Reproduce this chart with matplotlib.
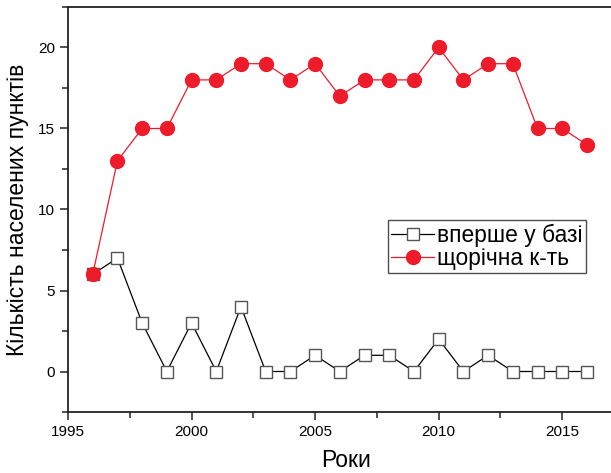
import matplotlib.pyplot as plt
from matplotlib.ticker import MultipleLocator

plt.rcParams['font.family'] = ['Liberation Sans', 'DejaVu Sans']

years = list(range(1996, 2017))
first_time = [6, 7, 3, 0, 3, 0, 4, 0, 0, 1, 0, 1, 1, 0, 2, 0, 1, 0, 0, 0, 0]
yearly = [6, 13, 15, 15, 18, 18, 19, 19, 18, 19, 17, 18, 18, 18, 20, 18, 19, 19, 15, 15, 14]

fig = plt.figure(figsize=(6.11, 4.73), dpi=100)
ax = fig.add_axes([68/611, 1 - 412/473, 556/611, 405/473])

ax.plot(years, first_time, '-s', color='black', lw=0.9, ms=8.5,
        mfc='white', mec='#555555', mew=1.0, label='вперше у базі')
ax.plot(years, yearly, '-o', color='#ee1c2a', lw=0.9, ms=10,
        mfc='#ee1c2a', mec='#ee1c2a', label='щорічна к-ть')

ax.set_xlim(1995, 2017.5)
ax.set_ylim(-2.5, 22.5)
ax.xaxis.set_major_locator(MultipleLocator(5))
ax.xaxis.set_minor_locator(MultipleLocator(2.5))
ax.yaxis.set_major_locator(MultipleLocator(5))
ax.yaxis.set_minor_locator(MultipleLocator(2.5))
ax.tick_params(which='major', direction='out', length=6, width=1.1, labelsize=11, color='#222222')
ax.tick_params(which='minor', direction='out', length=4, width=1.1, color='#222222')
for s in ax.spines.values():
    s.set_linewidth(1.3)
    s.set_color('#222222')

ax.set_xlabel('Роки', fontsize=16.5, labelpad=7)
ax.set_ylabel('Кількість населених пунктів', fontsize=16.5, labelpad=6)

leg = ax.legend(loc='upper left', bbox_to_anchor=(0.575, 0.474), fontsize=16.4,
                frameon=True, fancybox=False, edgecolor='#222222',
                handlelength=1.9, handletextpad=0.1, borderpad=0.15,
                labelspacing=0.0, borderaxespad=0)
leg.get_frame().set_linewidth(1.0)

fig.savefig('out.png', dpi=100)
